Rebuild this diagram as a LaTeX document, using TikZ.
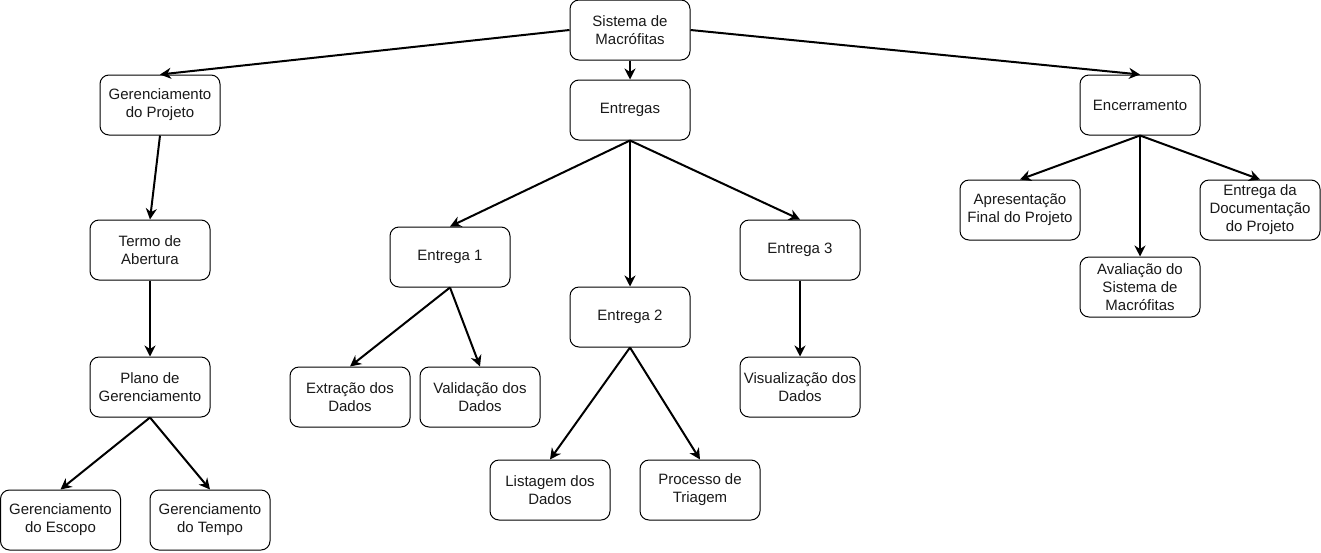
\documentclass[tikz,border=0pt]{standalone}
\usepackage{fontspec}
\setmainfont{Liberation Sans}
\usetikzlibrary{arrows.meta}
\begin{document}
\begin{tikzpicture}[x=1pt,y=-1pt,
  box/.style={draw=black, line width=1pt, rectangle, rounded corners=9pt,
    minimum width=120pt, minimum height=60pt, inner sep=0pt, align=center,
    font=\fontsize{15}{18}\selectfont, text=black!90},
  link/.style={draw=black, line width=2pt, -{Stealth[length=11pt,width=11pt,inset=3.5pt]}}]
\useasboundingbox (0,0) rectangle (1321,552);
\node[box] (sis) at (630,30) {Sistema de\\Macrófitas};
\node[box] (ger) at (160,105) {Gerenciamento\\do Projeto};
\node[box] (ent) at (630,110) {Entregas};
\node[box] (enc) at (1140,105) {Encerramento};
\node[box] (ter) at (150,250) {Termo de\\Abertura};
\node[box] (pla) at (150,387) {Plano de\\Gerenciamento};
\node[box] (esc) at (60.5,520) {Gerenciamento\\do Escopo};
\node[box] (tem) at (210,520) {Gerenciamento\\do Tempo};
\node[box] (e1) at (450,257) {Entrega 1};
\node[box] (e2) at (630,317) {Entrega 2};
\node[box] (e3) at (800,250) {Entrega 3};
\node[box] (ext) at (350,397) {Extração dos\\Dados};
\node[box] (val) at (480,397) {Validação dos\\Dados};
\node[box] (lis) at (550,490) {Listagem dos\\Dados};
\node[box] (pro) at (700,490) {Processo de\\Triagem};
\node[box] (vis) at (800,387) {Visualização dos\\Dados};
\node[box] (apr) at (1020,210) {Apresentação\\Final do Projeto};
\node[box] (ava) at (1140,287) {Avaliação do\\Sistema de\\Macrófitas};
\node[box] (doc) at (1260,210) {Entrega da\\Documentação\\do Projeto};
\draw[link] (sis.west) -- (ger.north);
\draw[link] (sis.south) -- (ent.north);
\draw[link] (sis.east) -- (enc.north);
\draw[link] (ger.south) -- (ter.north);
\draw[link] (ter.south) -- (pla.north);
\draw[link] (pla.south) -- (esc.north);
\draw[link] (pla.south) -- (tem.north);
\draw[link] (ent.south) -- (e1.north);
\draw[link] (ent.south) -- (e2.north);
\draw[link] (ent.south) -- (e3.north);
\draw[link] (e1.south) -- (ext.north);
\draw[link] (e1.south) -- (val.north);
\draw[link] (e2.south) -- (lis.north);
\draw[link] (e2.south) -- (pro.north);
\draw[link] (e3.south) -- (vis.north);
\draw[link] (enc.south) -- (apr.north);
\draw[link] (enc.south) -- (ava.north);
\draw[link] (enc.south) -- (doc.north);
\end{tikzpicture}
\end{document}
